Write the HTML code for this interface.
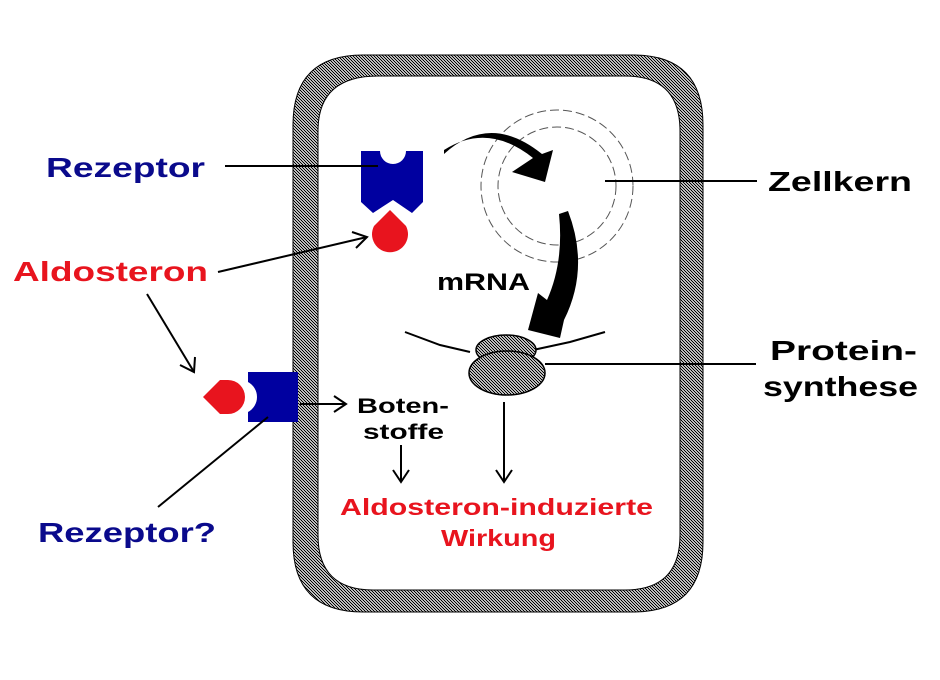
<!DOCTYPE html>
<html><head><meta charset="utf-8"><style>
html,body{margin:0;padding:0;background:#fff;}
svg{display:block;}
text{font-family:"Liberation Sans",Arial,sans-serif;font-weight:bold;}
</style></head><body>
<svg width="940" height="680" viewBox="0 0 940 680" xmlns="http://www.w3.org/2000/svg">
<defs>
<pattern id="h" width="3" height="3" patternUnits="userSpaceOnUse">
<rect width="3" height="3" fill="#bbb"/><rect width="1" height="1" fill="#000"/><rect x="1" y="1" width="1" height="1" fill="#000"/><rect x="2" y="2" width="1" height="1" fill="#000"/>
</pattern>
</defs>
<rect width="940" height="680" fill="#fff"/>
<!-- cell wall -->
<path fill-rule="evenodd" fill="url(#h)" stroke="#000" stroke-width="1"
d="M363,55 L633,55 Q703,55 703,125 L703,542 Q703,612 633,612 L363,612 Q293,612 293,542 L293,125 Q293,55 363,55 Z
M378,76 L625,76 Q680,76 680,131 L680,535 Q680,590 625,590 L373,590 Q318,590 318,535 L318,131 Q318,76 378,76 Z"/>
<!-- nucleus -->
<circle cx="557" cy="186" r="76" fill="none" stroke="#555" stroke-width="1" stroke-dasharray="9,4"/>
<circle cx="557" cy="186" r="59" fill="none" stroke="#555" stroke-width="1" stroke-dasharray="9,4"/>
<!-- top receptor -->
<path fill="#0000a0" d="M361,151 L380,151 A13,13 0 0 0 406,151 L423,151 L423,202 L412,213 L393,200 L373,213 L361,202 Z"/>
<path fill="#e8141e" d="M390,210 L374,226 A18,18 0 1 0 406,226 Z"/>
<!-- lower receptor -->
<path fill="#0000a0" d="M248,372 L298,372 L298,422 L248,422 L248,412 A17,17 0 0 0 248,382 Z"/>
<path fill="#e8141e" d="M203,397 L220,380 L228,380 A17,17 0 0 1 228,414 L220,414 Z"/>
<!-- curved arrows -->
<path fill="#000" d="M444,150 Q488,122 533,158 L512,172 L545,182 L553,150 L542,154 Q490,112 444,154 Z"/>
<path fill="#000" d="M559,214 L568,211 Q590,268 564,320 L560,338 L528,330 L538,293 L547,300 Q564,262 559,214 Z"/>
<!-- mRNA -->
<polyline points="405,332 440,345 470,352" fill="none" stroke="#000" stroke-width="2"/>
<polyline points="533,350 570,342 605,332" fill="none" stroke="#000" stroke-width="2"/>
<!-- ribosome -->
<ellipse cx="506" cy="350" rx="30" ry="15" fill="url(#h)" stroke="#000" stroke-width="1.5"/>
<ellipse cx="507" cy="373" rx="38" ry="22" fill="url(#h)" stroke="#000" stroke-width="1.5"/>
<!-- lines -->
<g stroke="#000" stroke-width="2" fill="none">
<line x1="225" y1="166" x2="378" y2="166"/>
<line x1="605" y1="181" x2="757" y2="181"/>
<line x1="545" y1="364" x2="756" y2="364"/>
<line x1="218" y1="272" x2="367" y2="237"/>
<polyline points="352,232 367,237 356,248"/>
<line x1="147" y1="294" x2="194" y2="372"/>
<polyline points="180,365 194,372 195,357"/>
<line x1="158" y1="507" x2="268" y2="417"/>
<line x1="300" y1="404" x2="346" y2="404"/>
<polyline points="334,396 346,404 334,412"/>
<line x1="401" y1="445" x2="401" y2="482"/>
<polyline points="393,470 401,482 409,470"/>
<line x1="504" y1="402" x2="504" y2="482"/>
<polyline points="496,470 504,482 512,470"/>
</g>
<!-- labels -->
<text x="46" y="177" font-size="28" fill="#0a0a8c" textLength="159" lengthAdjust="spacingAndGlyphs">Rezeptor</text>
<text x="13" y="281" font-size="28" fill="#e8141e" textLength="195" lengthAdjust="spacingAndGlyphs">Aldosteron</text>
<text x="38" y="542" font-size="28" fill="#0a0a8c" textLength="178" lengthAdjust="spacingAndGlyphs">Rezeptor?</text>
<text x="768" y="191" font-size="28" fill="#000" textLength="144" lengthAdjust="spacingAndGlyphs">Zellkern</text>
<text x="770" y="360" font-size="28" fill="#000" textLength="147" lengthAdjust="spacingAndGlyphs">Protein-</text>
<text x="763" y="396" font-size="28" fill="#000" textLength="155" lengthAdjust="spacingAndGlyphs">synthese</text>
<text x="437" y="290" font-size="24" fill="#000" textLength="93" lengthAdjust="spacingAndGlyphs">mRNA</text>
<text x="357" y="413" font-size="21" fill="#000" textLength="92" lengthAdjust="spacingAndGlyphs">Boten-</text>
<text x="363" y="439" font-size="21" fill="#000" textLength="81" lengthAdjust="spacingAndGlyphs">stoffe</text>
<text x="340" y="515" font-size="23" fill="#e8141e" textLength="313" lengthAdjust="spacingAndGlyphs">Aldosteron-induzierte</text>
<text x="441" y="546" font-size="23" fill="#e8141e" textLength="115" lengthAdjust="spacingAndGlyphs">Wirkung</text>
</svg>
</body></html>
